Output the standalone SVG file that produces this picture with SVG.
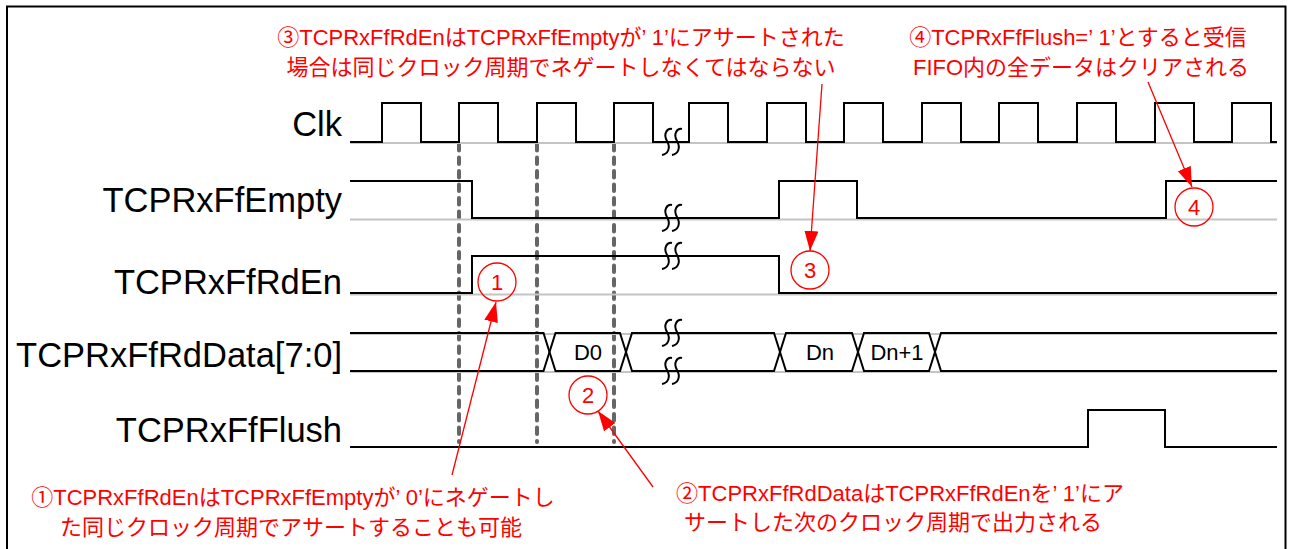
<svg xmlns="http://www.w3.org/2000/svg" xmlns:xlink="http://www.w3.org/1999/xlink" width="1291" height="549" viewBox="0 0 1291 549">
<style>
.sig{fill:none;stroke:#000;stroke-width:2;stroke-linejoin:miter}
.ghost{fill:none;stroke:#c4c4c4;stroke-width:2}
.brk{fill:none;stroke:#000;stroke-width:2}
.dash{fill:none;stroke:#666;stroke-width:4;stroke-dasharray:6.5 7;stroke-linecap:round}
.lbl{font-family:"Liberation Sans",Arial,sans-serif;font-size:34.5px;fill:#000;text-anchor:end}
.dat{font-family:"Liberation Sans",Arial,sans-serif;font-size:22px;fill:#000;text-anchor:middle}
.note{font-family:"Liberation Sans","Noto Sans CJK JP",sans-serif;font-size:22px;fill:#ff0000;text-anchor:middle}
.num{font-family:"Liberation Sans",Arial,sans-serif;font-size:22px;fill:#ff0000;text-anchor:middle}
.circ{fill:none;stroke:#ff0000;stroke-width:1.3}
.arr{fill:none;stroke:#ff0000;stroke-width:1.3;marker-end:url(#ah)}
</style>
<defs>
<marker id="ah" markerUnits="userSpaceOnUse" markerWidth="22" markerHeight="16" refX="20" refY="7" orient="auto">
<path d="M0,0 L20,7 L0,14 z" fill="#ff0000"/>
</marker>
<path id="brk" class="brk" d="M5,-13 C0,-14 -4,-8 0,-1 C4,6 1,12 -5,13 M15,-13 C10,-14 6,-8 10,-1 C14,6 11,12 5,13"/>
</defs>
<rect x="7" y="6.5" width="1278.5" height="600" fill="none" stroke="#000" stroke-width="2"/>
<g id="grid">
<line class="dash" x1="459" y1="144" x2="459" y2="442"/>
<line class="dash" x1="537" y1="144" x2="537" y2="442"/>
<line class="dash" x1="614" y1="144" x2="614" y2="442"/>
</g>
<g id="clk">
<text class="lbl" x="342" y="136">Clk</text>
<line class="ghost" x1="350" y1="143" x2="1277" y2="143"/>
<path class="sig" d="M350,142 H382 V103 H421 V142 H459 V103 H498 V142 H537 V103 H576 V142 H614 V103 H653 V142 H689 V103 H728 V142 H767 V103 H806 V142 H844 V103 H883 V142 H922 V103 H961 V142 H999 V103 H1038 V142 H1077 V103 H1116 V142 H1155 V103 H1194 V142 H1232 V103 H1271 V142 H1277"/>
<use xlink:href="#brk" x="667" y="142"/>
</g>
<g id="empty">
<text class="lbl" x="342" y="212">TCPRxFfEmpty</text>
<line class="ghost" x1="350" y1="219.5" x2="1277" y2="219.5"/>
<path class="sig" d="M350,181 H472 V218 H779 V181 H857 V218 H1166 V181 H1277"/>
<use xlink:href="#brk" x="667" y="218"/>
</g>
<g id="rden">
<text class="lbl" x="342" y="294">TCPRxFfRdEn</text>
<line class="ghost" x1="350" y1="294.5" x2="1277" y2="294.5"/>
<path class="sig" d="M350,293 H472 V256 H779 V293 H1277"/>
<use xlink:href="#brk" x="667" y="256"/>
</g>
<g id="rddata">
<text class="lbl" x="342" y="367">TCPRxFfRdData[7:0]</text>
<line class="ghost" x1="350" y1="334" x2="1277" y2="334"/>
<line class="ghost" x1="350" y1="372" x2="1277" y2="372"/>
<path class="sig" d="M350,333 H543.5 L555.5,371 H620 L632,333 H774 L786,371 H852 L864,333 H929 L941,371 H1277"/>
<path class="sig" d="M350,371 H543.5 L555.5,333 H620 L632,371 H774 L786,333 H852 L864,371 H929 L941,333 H1277"/>
<use xlink:href="#brk" x="667" y="333"/>
<use xlink:href="#brk" x="667" y="371"/>
<text class="dat" x="588" y="360">D0</text>
<text class="dat" x="820" y="360">Dn</text>
<text class="dat" x="897" y="360">Dn+1</text>
</g>
<g id="flush">
<text class="lbl" x="342" y="442">TCPRxFfFlush</text>
<path class="sig" d="M350,447 H1088 V410 H1165 V447 H1277"/>
</g>
<g id="note1">
<circle class="circ" cx="497" cy="282" r="19"/>
<text class="num" x="497" y="290">1</text>
<text class="note" x="293" y="505">①TCPRxFfRdEnはTCPRxFfEmptyが’ 0’にネゲートし</text>
<text class="note" x="291" y="535">た同じクロック周期でアサートすることも可能</text>
</g>
<g id="note2">
<circle class="circ" cx="588" cy="395" r="19"/>
<text class="num" x="588" y="403">2</text>
<text class="note" x="900" y="501">②TCPRxFfRdDataはTCPRxFfRdEnを’ 1’にア</text>
<text class="note" x="893" y="530">サートした次のクロック周期で出力される</text>
</g>
<g id="note3">
<circle class="circ" cx="810" cy="270" r="19"/>
<text class="num" x="810" y="278">3</text>
<text class="note" x="561" y="45">③TCPRxFfRdEnはTCPRxFfEmptyが’ 1’にアサートされた</text>
<text class="note" x="561" y="75">場合は同じクロック周期でネゲートしなくてはならない</text>
</g>
<g id="note4">
<circle class="circ" cx="1194" cy="207" r="19"/>
<text class="num" x="1194" y="215">4</text>
<text class="note" x="1078" y="45">④TCPRxFfFlush=’ 1’とすると受信</text>
<text class="note" x="1081" y="75">FIFO内の全データはクリアされる</text>
</g>
<g id="connectors">
<line class="arr" x1="452" y1="475" x2="496" y2="302"/>
<line class="arr" x1="653" y1="487" x2="598" y2="411"/>
<line class="arr" x1="822" y1="84" x2="810" y2="251"/>
<line class="arr" x1="1148" y1="82" x2="1192" y2="187"/>
</g>
</svg>
